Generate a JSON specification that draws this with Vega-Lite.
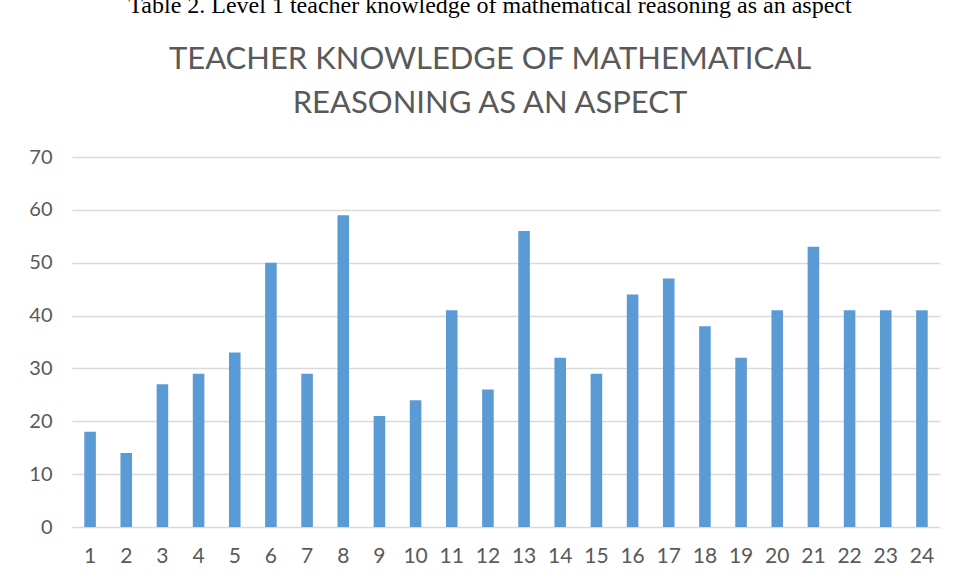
{
  "$schema": "https://vega.github.io/schema/vega-lite/v6.json",
  "autosize": "none",
  "width": 868,
  "height": 370,
  "padding": {"left": 72, "top": 157, "right": 14, "bottom": 55},
  "background": "white",
  "title": {
    "text": "Table 2. Level 1 teacher knowledge of mathematical reasoning as an aspect",
    "subtitle": ["TEACHER KNOWLEDGE OF MATHEMATICAL", "REASONING AS AN ASPECT"],
    "anchor": "middle",
    "frame": "group",
    "dx": -16,
    "font": "Liberation Serif",
    "fontSize": 24,
    "fontWeight": "normal",
    "color": "black",
    "subtitleFont": "Lato",
    "subtitleFontSize": 31,
    "subtitleFontWeight": "normal",
    "subtitleColor": "#595959",
    "subtitleLineHeight": 44,
    "subtitlePadding": 27,
    "offset": 28
  },
  "data": {
    "values": [
      {"n": "1", "v": 18}, {"n": "2", "v": 14}, {"n": "3", "v": 27}, {"n": "4", "v": 29},
      {"n": "5", "v": 33}, {"n": "6", "v": 50}, {"n": "7", "v": 29}, {"n": "8", "v": 59},
      {"n": "9", "v": 21}, {"n": "10", "v": 24}, {"n": "11", "v": 41}, {"n": "12", "v": 26},
      {"n": "13", "v": 56}, {"n": "14", "v": 32}, {"n": "15", "v": 29}, {"n": "16", "v": 44},
      {"n": "17", "v": 47}, {"n": "18", "v": 38}, {"n": "19", "v": 32}, {"n": "20", "v": 41},
      {"n": "21", "v": 53}, {"n": "22", "v": 41}, {"n": "23", "v": 41}, {"n": "24", "v": 41}
    ]
  },
  "mark": {"type": "bar", "color": "#5b9bd5"},
  "encoding": {
    "x": {
      "field": "n", "type": "ordinal", "sort": null,
      "scale": {"paddingInner": 0.68, "paddingOuter": 0.34},
      "axis": {"title": null, "labelAngle": 0, "ticks": false, "domain": false, "grid": false,
               "labelFont": "Lato", "labelFontSize": 21, "labelColor": "#595959", "labelPadding": 18}
    },
    "y": {
      "field": "v", "type": "quantitative",
      "scale": {"domain": [0, 70]},
      "axis": {"title": null, "values": [0, 10, 20, 30, 40, 50, 60, 70], "ticks": false, "domain": false,
               "gridColor": "#d9d9d9", "gridWidth": 1.5,
               "labelFont": "Lato", "labelFontSize": 20, "labelColor": "#595959", "labelPadding": 20}
    }
  },
  "config": {"view": {"stroke": null}}
}
